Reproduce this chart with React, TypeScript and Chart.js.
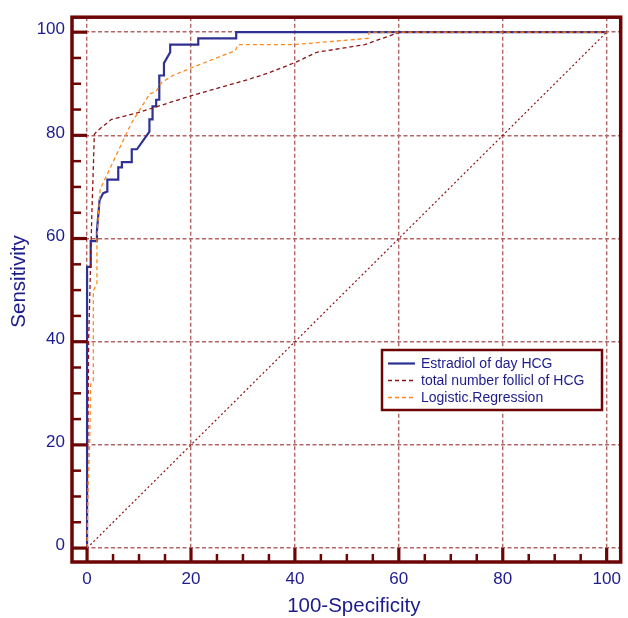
import React, { useEffect, useRef } from "react";
import { Chart, registerables } from "chart.js";

Chart.register(...registerables);

// ---- data (100-Specificity, Sensitivity) ----
const estradiolFpr = [0, 0, 0.7, 0.7, 1.9, 1.9, 2.4, 3.1, 3.9, 3.9, 6.0, 6.0, 6.7, 6.7, 8.6, 8.6, 9.6, 12.0, 12.0, 12.6, 12.6, 13.3, 13.3, 13.9, 13.9, 14.8, 14.8, 16.0, 16.0, 21.4, 21.4, 28.7, 28.7, 100];
const estradiolTpr = [0, 54.5, 54.5, 59.5, 59.5, 61.5, 67.4, 68.8, 69.1, 71.4, 71.4, 73.8, 73.8, 74.8, 74.8, 77.3, 77.3, 80.7, 83.1, 83.1, 85.6, 85.6, 86.9, 86.9, 91.6, 91.6, 94.0, 96.1, 97.6, 97.6, 98.8, 98.8, 100, 100];

const follicleFpr = [0, 0.3, 0.9, 1.4, 1.9, 4.7, 9.8, 20.1, 31.3, 35.2, 40, 44.2, 53.5, 60.2, 100];
const follicleTpr = [0, 40, 64, 80.2, 80.8, 83.1, 84.4, 87.7, 90.9, 92.2, 94.1, 96.1, 97.6, 100, 100];

const logisticFpr = [0, 0.2, 0.5, 0.7, 1.2, 1.2, 1.9, 1.9, 2.5, 8.5, 12.1, 13.2, 14.3, 16.5, 20.1, 28.5, 29.1, 40, 54.1, 54.3, 100];
const logisticTpr = [0, 12, 20, 31.8, 32.2, 49.8, 51.4, 59.8, 69.5, 82.3, 88.1, 88.4, 90.2, 91.6, 93.1, 96.4, 97.6, 97.6, 98.8, 100, 100];

const diagonalFpr = [0, 100];
const diagonalTpr = [0, 100];

const seriesNames = ["Estradiol of day HCG", "total number follicl of HCG", "Logistic.Regression"];
const majorTicks = [0, 20, 40, 60, 80, 100];
const minorTicks = [5, 10, 15, 25, 30, 35, 45, 50, 55, 65, 70, 75, 85, 90, 95];
const xTitle = "100-Specificity";
const yTitle = "Sensitivity";

// ---- styles ----
const FONT = "'Liberation Sans', Arial, Helvetica, sans-serif";
const NAVY = "#1c1c8c";
const FRAME = "#6e0505";
const GRID = "#b36464";
const BLUE = "#2e3192";
const DARKRED = "#8b1414";
const ORANGE = "#ff8a1c";

const toPoints = (xs: number[], ys: number[]) => xs.map((x, i) => ({ x, y: ys[i] }));

const decorPlugin = {
  id: "rocDecor",
  afterDraw(chart: any) {
    const { ctx, chartArea: a, scales } = chart;
    const xs = scales.x;
    const ys = scales.y;
    const x0 = xs.getPixelForValue(0);
    const y0 = ys.getPixelForValue(0);
    const seg = (x1: number, y1: number, x2: number, y2: number) => {
      ctx.beginPath();
      ctx.moveTo(x1, y1);
      ctx.lineTo(x2, y2);
      ctx.stroke();
    };
    ctx.save();
    ctx.setLineDash([]);
    ctx.strokeStyle = FRAME;
    ctx.lineCap = "butt";
    // minor ticks
    ctx.lineWidth = 2.5;
    for (const v of minorTicks) {
      const px = xs.getPixelForValue(v);
      seg(px, a.bottom, px, a.bottom - 8);
      const py = ys.getPixelForValue(v);
      seg(a.left, py, a.left + 9, py);
    }
    // major ticks
    ctx.lineWidth = 3.2;
    for (const v of majorTicks) {
      const px = xs.getPixelForValue(v);
      seg(px, a.bottom, px, y0);
      const py = ys.getPixelForValue(v);
      seg(a.left, py, x0, py);
    }
    // frame
    ctx.lineWidth = 3.5;
    ctx.strokeRect(a.left, a.top, a.right - a.left, a.bottom - a.top);

    // legend
    const lx = 382, ly = 350, lw = 220, lh = 60;
    ctx.fillStyle = "#ffffff";
    ctx.fillRect(lx, ly, lw, lh);
    ctx.lineWidth = 2.5;
    ctx.strokeStyle = FRAME;
    ctx.strokeRect(lx, ly, lw, lh);
    const rows = [363.5, 380.5, 397.5];
    ctx.font = `14px ${FONT}`;
    ctx.textBaseline = "middle";
    ctx.textAlign = "left";
    for (let i = 0; i < 3; i++) {
      const ds = chart.data.datasets[i];
      ctx.strokeStyle = ds.borderColor;
      ctx.lineWidth = i === 0 ? 2.2 : 1.4;
      ctx.setLineDash(ds.borderDash || []);
      seg(388, rows[i], 415, rows[i]);
      ctx.setLineDash([]);
      ctx.fillStyle = NAVY;
      ctx.fillText(ds.label, 421, rows[i] + 0.5);
    }

    // axis titles
    ctx.fillStyle = NAVY;
    ctx.font = `20.5px ${FONT}`;
    ctx.textAlign = "center";
    ctx.textBaseline = "alphabetic";
    ctx.fillText(xTitle, 353.8, 611.7);
    ctx.save();
    ctx.translate(24.5, 281.5);
    ctx.rotate(-Math.PI / 2);
    ctx.fillText(yTitle, 0, 0);
    ctx.restore();
    ctx.restore();
  },
};

export default function App() {
  const ref = useRef<HTMLCanvasElement | null>(null);

  useEffect(() => {
    if (!ref.current) return;
    const majorSet = (scale: any) => {
      scale.ticks = majorTicks.map((v) => ({ value: v }));
    };
    const chart = new Chart(ref.current, {
      type: "scatter",
      data: {
        datasets: [
          {
            label: seriesNames[0],
            data: toPoints(estradiolFpr, estradiolTpr),
            showLine: true,
            borderColor: BLUE,
            backgroundColor: BLUE,
            borderWidth: 2.2,
            pointRadius: 0,
            tension: 0,
            order: 3,
          },
          {
            label: seriesNames[1],
            data: toPoints(follicleFpr, follicleTpr),
            showLine: true,
            borderColor: DARKRED,
            backgroundColor: DARKRED,
            borderWidth: 1.3,
            borderDash: [4, 3],
            pointRadius: 0,
            tension: 0,
            order: 2,
          },
          {
            label: seriesNames[2],
            data: toPoints(logisticFpr, logisticTpr),
            showLine: true,
            borderColor: ORANGE,
            backgroundColor: ORANGE,
            borderWidth: 1.3,
            borderDash: [4, 3],
            pointRadius: 0,
            tension: 0,
            order: 1,
          },
          {
            label: "reference",
            data: toPoints(diagonalFpr, diagonalTpr),
            showLine: true,
            borderColor: DARKRED,
            backgroundColor: DARKRED,
            borderWidth: 1.2,
            borderDash: [2, 2.5],
            pointRadius: 0,
            order: 4,
          },
        ],
      },
      options: {
        responsive: false,
        animation: false,
        layout: { padding: { top: 13, right: 6, left: 0, bottom: 0 } },
        plugins: {
          legend: { display: false },
          tooltip: { enabled: false },
          title: { display: false },
        },
        scales: {
          x: {
            type: "linear",
            min: -2.9,
            max: 102.7,
            afterBuildTicks: majorSet,
            afterFit: (s: any) => {
              s.height = 56;
            },
            grid: {
              color: GRID,
              lineWidth: 1.4,
              drawTicks: false,
            },
            border: { display: false, dash: [4, 2.5] },
            ticks: {
              color: NAVY,
              font: { family: FONT, size: 17 },
              padding: 7,
              maxRotation: 0,
              autoSkip: false,
            },
          },
          y: {
            type: "linear",
            min: -2.7,
            max: 102.9,
            afterBuildTicks: majorSet,
            afterFit: (s: any) => {
              s.width = 72;
            },
            grid: {
              color: GRID,
              lineWidth: 1.4,
              drawTicks: false,
            },
            border: { display: false, dash: [4, 2.5] },
            ticks: {
              color: NAVY,
              font: { family: FONT, size: 17 },
              padding: 7,
              labelOffset: -2.5,
              autoSkip: false,
            },
          },
        },
      },
      plugins: [decorPlugin],
    } as any);
    return () => chart.destroy();
  }, []);

  return (
    <div style={{ position: "fixed", left: 0, top: 0, width: 628, height: 618, background: "#ffffff" }}>
      <canvas ref={ref} width={628} height={618} style={{ display: "block" }} />
    </div>
  );
}
